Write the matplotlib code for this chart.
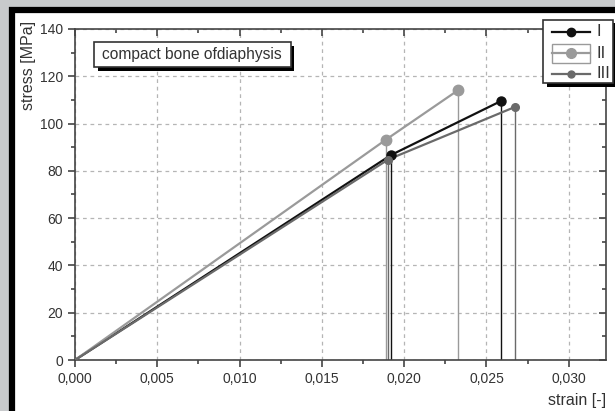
import matplotlib
matplotlib.use("Agg")
import matplotlib.pyplot as plt
from matplotlib.patches import Rectangle
from matplotlib.lines import Line2D
from matplotlib.ticker import MultipleLocator, FuncFormatter

# ---- data ----
labels = ["I", "II", "III"]
strain_I = [0.0, 0.0192, 0.0259]
stress_I = [0.0, 86.7, 109.6]
strain_II = [0.0, 0.01887, 0.02325]
stress_II = [0.0, 93.1, 114.0]
strain_III = [0.0, 0.01903, 0.02672]
stress_III = [0.0, 84.8, 107.0]
colors = ["#111111", "#9a9a9a", "#6a6a6a"]
marker_sizes = [6.5, 7.5, 5.5]

series = [(strain_I, stress_I), (strain_II, stress_II), (strain_III, stress_III)]

plt.rcParams["font.family"] = ["Liberation Sans", "DejaVu Sans"]

W, H = 615, 411
fig = plt.figure(figsize=(W / 100, H / 100), dpi=100)
fig.patch.set_facecolor("#c8cacc")

# white panel with thick black frame (only left/top edges visible)
fig.patches.append(Rectangle((12 / W, -0.1), 1.2, 1.1 - 10.5 / H, transform=fig.transFigure,
                             facecolor="white", edgecolor="black", linewidth=4.5, zorder=-1))

ax = fig.add_axes([75 / W, (H - 360) / H, (606 - 75) / W, (360 - 29) / H])
ax.set_xlim(0, (606 - 75) / 16460)
ax.set_ylim(0, 140)
ax.patch.set_alpha(0)

for (x, y), c, ms in zip(series, colors, marker_sizes):
    ax.plot(x, y, color=c, linewidth=1.6, zorder=3)
    # markers at the two break points
    ax.plot(x[-2:], y[-2:], "o", color=c, markersize=ms, markeredgecolor=c, zorder=4)
    # drop lines down to the strain axis
    ax.vlines(x[-2:], 0, y[-2:], color=c, linewidth=1.0, zorder=2)

ax.xaxis.set_major_locator(MultipleLocator(0.005))
ax.xaxis.set_minor_locator(MultipleLocator(0.0025))
ax.yaxis.set_major_locator(MultipleLocator(20))
ax.yaxis.set_minor_locator(MultipleLocator(10))
ax.xaxis.set_major_formatter(FuncFormatter(lambda v, p: f"{v:.3f}".replace(".", ",")))
ax.yaxis.set_major_formatter(FuncFormatter(lambda v, p: f"{v:.0f}"))

ax.grid(True, which="major", linestyle=(0, (3, 3)), color="#b5b5b5", linewidth=0.9)
ax.set_axisbelow(True)
for s in ax.spines.values():
    s.set_color("#444444")
    s.set_linewidth(1.2)
ax.tick_params(which="both", direction="out", color="#444444", width=1.2,
               labelsize=10, labelcolor="#333333")
ax.tick_params(which="major", length=5)
ax.tick_params(which="minor", length=3)
ax.tick_params(which="both", top=True, right=True)
# top / right ticks point inward
for t in ax.xaxis.get_major_ticks() + ax.xaxis.get_minor_ticks():
    t.tick2line.set_marker(3)
for t in ax.yaxis.get_major_ticks() + ax.yaxis.get_minor_ticks():
    t.tick2line.set_marker(0)

fig.text(28 / W, 1 - 65 / H, "stress [MPa]", rotation=90, fontsize=11.5,
         color="#333333", ha="center", va="center")
fig.text(606 / W, 1 - 400 / H, "strain [-]", fontsize=11.5, color="#333333",
         ha="right", va="center")

# title box with shadow
fig.patches.append(Rectangle((98 / W, 1 - 71 / H), 196 / W, 25 / H, transform=fig.transFigure,
                             facecolor="black", edgecolor="none", zorder=5))
fig.patches.append(Rectangle((94 / W, 1 - 67 / H), 197 / W, 25 / H, transform=fig.transFigure,
                             facecolor="white", edgecolor="#333333", linewidth=1.2, zorder=6))
fig.text(192 / W, 1 - 55 / H, "compact bone ofdiaphysis", fontsize=11.2, color="#333333",
         ha="center", va="center", zorder=7)

# legend with shadow
fig.patches.append(Rectangle((547 / W, 1 - 87 / H), 70 / W, 64 / H, transform=fig.transFigure,
                             facecolor="black", edgecolor="none", zorder=5))
fig.patches.append(Rectangle((543 / W, 1 - 83 / H), 70 / W, 63 / H, transform=fig.transFigure,
                             facecolor="white", edgecolor="#333333", linewidth=1.2, zorder=6))
fig.patches.append(Rectangle((552 / W, 1 - 63 / H), 38 / W, 19 / H, transform=fig.transFigure,
                             facecolor="none", edgecolor="#9a9a9a", linewidth=1.0, zorder=7))
for i, (lab, c, ms) in enumerate(zip(labels, colors, marker_sizes)):
    yy = 1 - (32 + 21 * i) / H
    fig.add_artist(Line2D([552 / W, 590 / W], [yy, yy], color=c, linewidth=1.6,
                          transform=fig.transFigure, zorder=8))
    fig.add_artist(Line2D([571 / W], [yy], marker="o", color=c, markersize=ms - 0.5,
                          transform=fig.transFigure, zorder=9))
    fig.text(597 / W, yy, lab, fontsize=12, color="#333333", ha="left", va="center", zorder=9)

fig.savefig("out.png", dpi=100)
